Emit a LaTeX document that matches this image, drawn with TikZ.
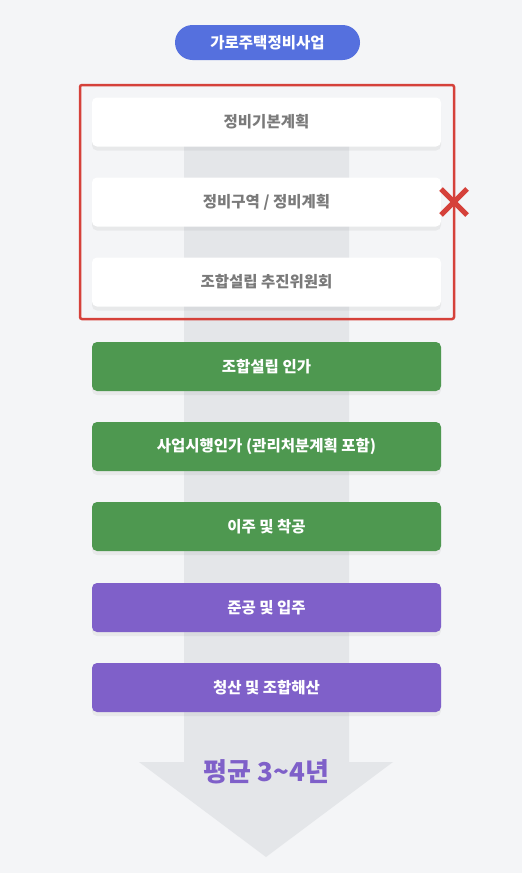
\documentclass[tikz,border=0pt]{standalone}
\usepackage{fontspec}
\newfontfamily\kr{Noto Sans CJK KR}
\usetikzlibrary{shadows}
\definecolor{pagebg}{HTML}{F4F5F7}
\definecolor{arrowgray}{HTML}{E4E6E9}
\definecolor{pillblue}{HTML}{5570DE}
\definecolor{crossred}{HTML}{D5413A}
\definecolor{stepgreen}{HTML}{4E9850}
\definecolor{steppurple}{HTML}{7F60C9}
\definecolor{textgray}{HTML}{7A7A7A}
\tikzset{
    stepbox/.style={rounded corners=5pt, minimum width=349pt, minimum height=49pt,
        font=\kr\bfseries\fontsize{15.5}{18}\selectfont, inner sep=0pt,
        drop shadow={opacity=0.10, shadow xshift=0pt, shadow yshift=-4pt}},
    plainstep/.style={stepbox, fill=white, text=textgray},
    greenstep/.style={stepbox, fill=stepgreen, text=white},
    purplestep/.style={stepbox, fill=steppurple, text=white}
}
\begin{document}
\begin{tikzpicture}[x=1pt, y=-1pt]
    % Background
    \fill[pagebg] (0,0) rectangle (522,873);
    \useasboundingbox (0,0) rectangle (522,873);

    % Big arrow behind the steps
    \fill[arrowgray] (184,100) -- (349,100) -- (349,762) -- (393,762)
        -- (266,857) -- (139,762) -- (184,762) -- cycle;

    % Title
    \node[fill=pillblue, text=white, rounded corners=17.5pt, minimum width=185pt,
          minimum height=35pt, inner sep=0pt,
          font=\kr\bfseries\fontsize{15.5}{18}\selectfont] (title) at (267.5,42.5) {가로주택정비사업};

    % Steps that are skipped
    \foreach \y/\name/\txt in {122/plan/정비기본계획, 202/zone/{정비구역 / 정비계획},
                               282/committee/조합설립 추진위원회} {
        \node[plainstep] (\name) at (266.5,\y) {\txt};
    }

    % Red frame and cross
    \node[draw=crossred, line width=2.5pt, rounded corners=2pt, minimum width=374pt,
          minimum height=234pt, inner sep=0pt] (skipped) at (267,202) {};
    \draw[crossred, line width=5pt] (441,189) -- (467,215)
        (441,215) -- (467,189);

    % Remaining steps
    \foreach \y/\name/\txt in {366.5/approval/조합설립 인가,
                               446.5/permit/사업시행인가 (관리처분계획 포함),
                               526.5/construct/이주 및 착공} {
        \node[greenstep] (\name) at (266.5,\y) {\txt};
    }
    \foreach \y/\name/\txt in {607.5/complete/준공 및 입주, 687.5/close/청산 및 조합해산} {
        \node[purplestep] (\name) at (266.5,\y) {\txt};
    }

    % Duration
    \node[text=steppurple, font=\kr\bfseries\fontsize{26}{30}\selectfont] (duration) at (266.5,772) {평균 3\textasciitilde 4년};
\end{tikzpicture}
\end{document}
